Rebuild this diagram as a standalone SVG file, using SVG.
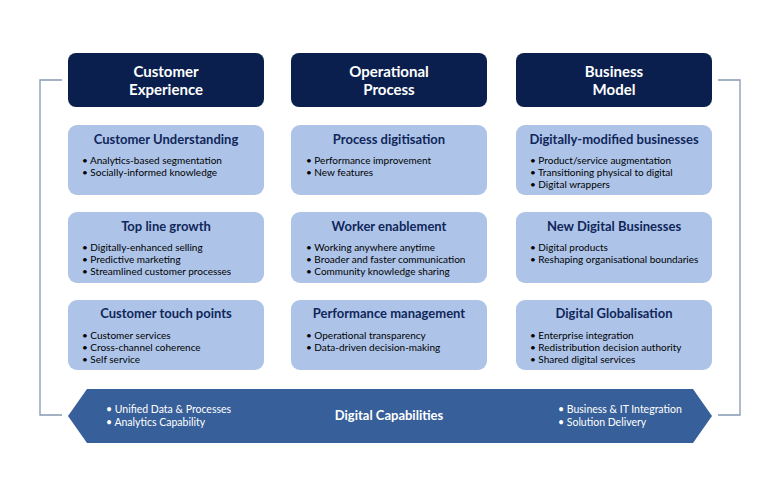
<svg xmlns="http://www.w3.org/2000/svg" width="780" height="496" viewBox="0 0 780 496">
<style>
.hdr{fill:#0a1f4e}
.hdrt{fill:#fff;font-family:Lato,"Open Sans",sans-serif;font-weight:700;font-size:15px;text-anchor:middle}
.box{fill:#adc4e8}
.ttl{fill:#10265a;font-family:Lato,"Open Sans",sans-serif;font-weight:700;font-size:13px;text-anchor:middle}
.bl{fill:#000;font-family:Lato,"Open Sans",sans-serif;font-size:10px}
.band{fill:#375f99}
.bt{fill:#fff;font-family:Lato,"Open Sans",sans-serif;font-size:10.5px}
.btb{fill:#fff;font-family:Lato,"Open Sans",sans-serif;font-weight:700;font-size:13px;text-anchor:middle}
.br{fill:none;stroke:#8598b2;stroke-width:1.3}
</style>
<rect width="780" height="496" fill="#fff"/>
<g id="connectors">
<polyline class="br" points="62,80 40,80 40,415 62,415"/>
<polyline class="br" points="718,80 740,80 740,415 718,415"/>
</g>
<g id="customer-experience"><rect class="hdr" x="68" y="53" width="196" height="54" rx="8"/><text class="hdrt" x="166" y="77">Customer</text><text class="hdrt" x="166" y="95">Experience</text></g>
<g id="operational-process"><rect class="hdr" x="291" y="53" width="196" height="54" rx="8"/><text class="hdrt" x="389" y="77">Operational</text><text class="hdrt" x="389" y="95">Process</text></g>
<g id="business-model"><rect class="hdr" x="516" y="53" width="196" height="54" rx="8"/><text class="hdrt" x="614" y="77">Business</text><text class="hdrt" x="614" y="95">Model</text></g>

<g id="customer-understanding"><rect class="box" x="68" y="125" width="196" height="70" rx="9"/><text class="ttl" x="166" y="144">Customer Understanding</text><text class="bl" x="82" y="164">• Analytics-based segmentation</text><text class="bl" x="82" y="176">• Socially-informed knowledge</text></g>
<g id="process-digitisation"><rect class="box" x="291" y="125" width="196" height="70" rx="9"/><text class="ttl" x="389" y="144">Process digitisation</text><text class="bl" x="306" y="164">• Performance improvement</text><text class="bl" x="306" y="176">• New features</text></g>
<g id="digitally-modified-businesses"><rect class="box" x="516" y="125" width="196" height="70" rx="9"/><text class="ttl" x="614" y="144">Digitally-modified businesses</text><text class="bl" x="530" y="164">• Product/service augmentation</text><text class="bl" x="530" y="176">• Transitioning physical to digital</text><text class="bl" x="530" y="188">• Digital wrappers</text></g>

<g id="top-line-growth"><rect class="box" x="68" y="212" width="196" height="71" rx="9"/><text class="ttl" x="166" y="231">Top line growth</text><text class="bl" x="82" y="251">• Digitally-enhanced selling</text><text class="bl" x="82" y="263">• Predictive marketing</text><text class="bl" x="82" y="275">• Streamlined customer processes</text></g>
<g id="worker-enablement"><rect class="box" x="291" y="212" width="196" height="71" rx="9"/><text class="ttl" x="389" y="231">Worker enablement</text><text class="bl" x="306" y="251">• Working anywhere anytime</text><text class="bl" x="306" y="263">• Broader and faster communication</text><text class="bl" x="306" y="275">• Community knowledge sharing</text></g>
<g id="new-digital-businesses"><rect class="box" x="516" y="212" width="196" height="71" rx="9"/><text class="ttl" x="614" y="231">New Digital Businesses</text><text class="bl" x="530" y="251">• Digital products</text><text class="bl" x="530" y="263">• Reshaping organisational boundaries</text></g>

<g id="customer-touch-points"><rect class="box" x="68" y="300" width="196" height="70" rx="9"/><text class="ttl" x="166" y="318">Customer touch points</text><text class="bl" x="82" y="339">• Customer services</text><text class="bl" x="82" y="351">• Cross-channel coherence</text><text class="bl" x="82" y="363">• Self service</text></g>
<g id="performance-management"><rect class="box" x="291" y="300" width="196" height="70" rx="9"/><text class="ttl" x="389" y="318">Performance management</text><text class="bl" x="306" y="339">• Operational transparency</text><text class="bl" x="306" y="351">• Data-driven decision-making</text></g>
<g id="digital-globalisation"><rect class="box" x="516" y="300" width="196" height="70" rx="9"/><text class="ttl" x="614" y="318">Digital Globalisation</text><text class="bl" x="530" y="339">• Enterprise integration</text><text class="bl" x="530" y="351">• Redistribution decision authority</text><text class="bl" x="530" y="363">• Shared digital services</text></g>

<g id="digital-capabilities"><polygon class="band" points="68,416 87,389 693,389 712,416 693,443 87,443"/>
<text class="bt" x="106" y="413">• Unified Data &amp; Processes</text><text class="bt" x="106" y="426">• Analytics Capability</text>
<text class="btb" x="389" y="420">Digital Capabilities</text>
<text class="bt" x="558" y="413">• Business &amp; IT Integration</text><text class="bt" x="558" y="426">• Solution Delivery</text></g>
</svg>
